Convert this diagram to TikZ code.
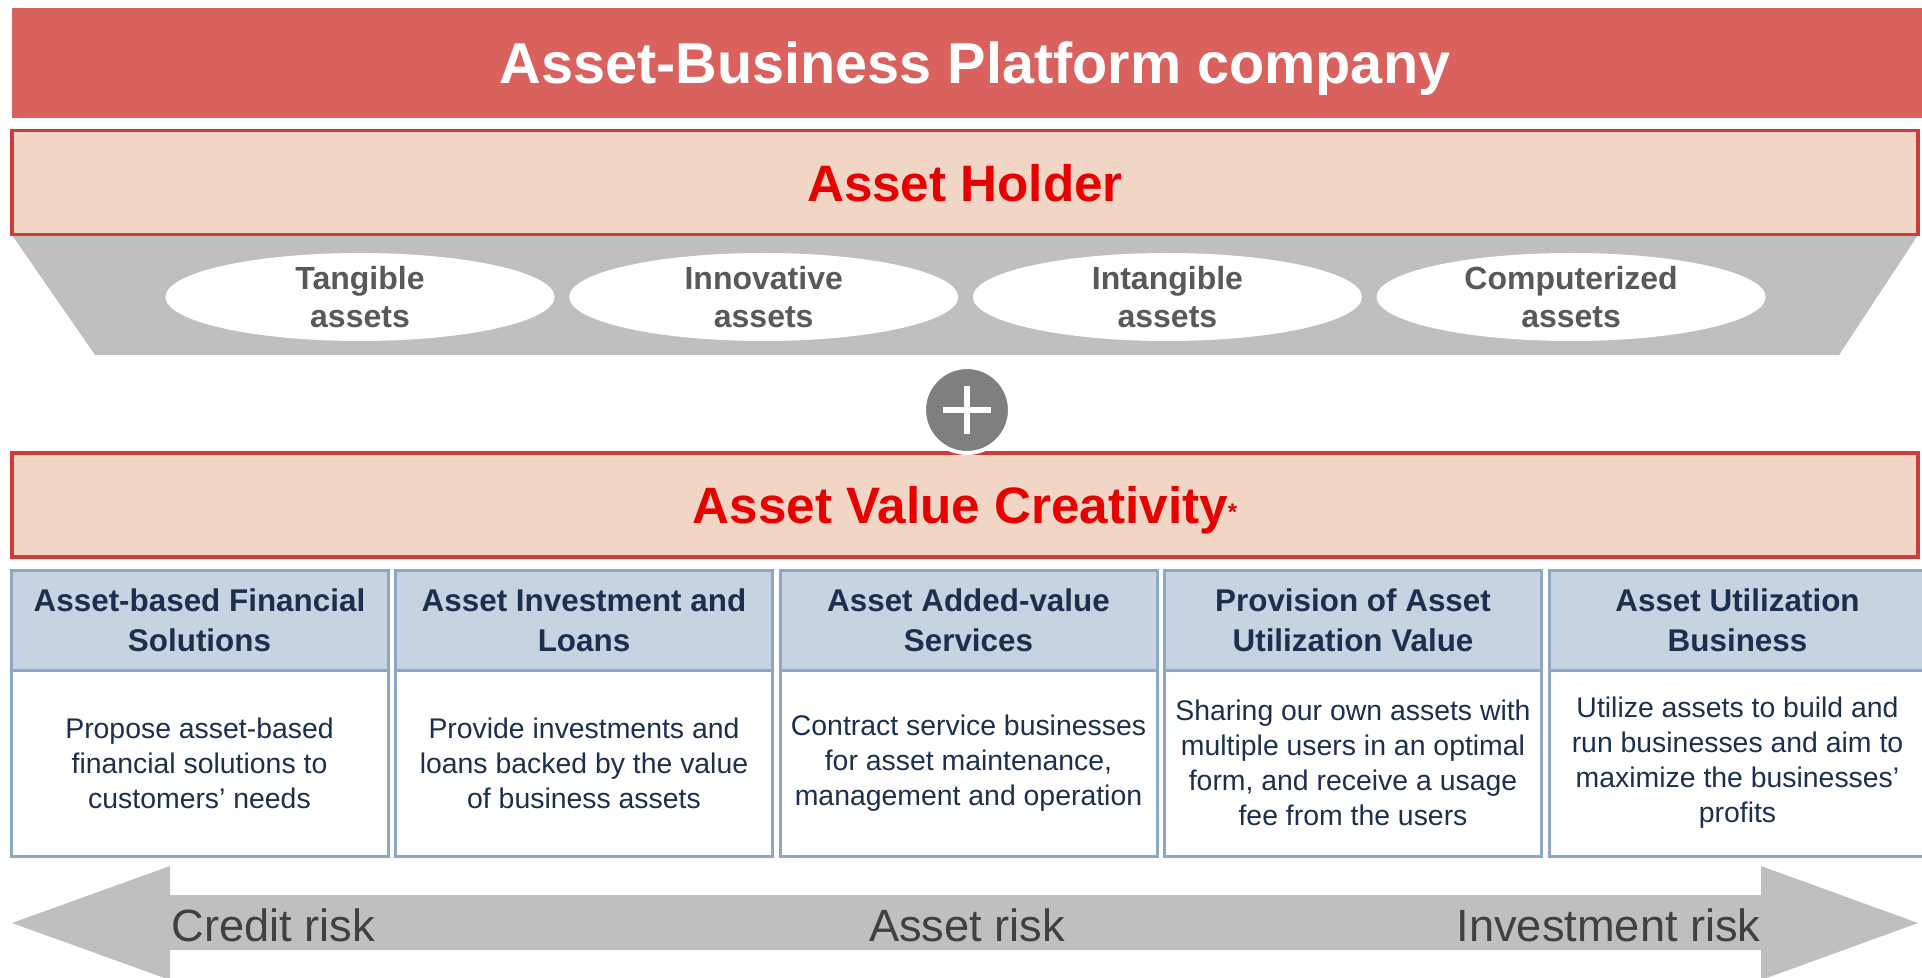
\documentclass[tikz,border=0pt]{standalone}
\usepackage{fontspec}
\setmainfont{Liberation Sans}
\usepackage{xcolor}
\usetikzlibrary{shapes.geometric}
\definecolor{bannerred}{HTML}{D9625F}
\definecolor{holderfill}{HTML}{F1D5C5}
\definecolor{holderline}{HTML}{CD3B3B}
\definecolor{titlered}{HTML}{E60000}
\definecolor{assetgray}{HTML}{BFBFBF}
\definecolor{assettext}{HTML}{595959}
\definecolor{plusgray}{HTML}{7F7F7F}
\definecolor{headfill}{HTML}{C7D3E0}
\definecolor{headline}{HTML}{8DA7C5}
\definecolor{navy}{HTML}{1C2F4E}
\definecolor{risktext}{HTML}{404040}
\begin{document}
\begin{tikzpicture}[x=0.5pt,y=-0.5pt,
  band/.style={line width=1.6pt,draw=holderline,fill=holderfill,minimum width=953pt,minimum height=52pt,inner sep=0pt,text depth=0pt,text=titlered,font=\fontsize{25.6}{25.6}\selectfont\bfseries},
  asset/.style={ellipse,fill=white,minimum width=194.5pt,minimum height=44pt,inner sep=0pt,align=center,text=assettext,font=\fontsize{16}{19}\selectfont\bfseries},
  headbox/.style={line width=1.5pt,draw=headline,fill=headfill,minimum width=188.5pt,minimum height=50pt,inner sep=0pt,align=center,text=navy,font=\fontsize{15.7}{20}\selectfont\bfseries},
  bodybox/.style={line width=1.5pt,draw=headline,fill=white,minimum width=188.5pt,minimum height=93pt,inner sep=0pt,align=center,text=navy,font=\fontsize{14.2}{17.5}\selectfont},
  risk/.style={inner sep=0pt,text=risktext,font=\fontsize{22.6}{22.6}\selectfont}]
\useasboundingbox (0,0) rectangle (1922,978);

\fill[bannerred] (12,8) rectangle (1922,118);
\node[inner sep=0pt,text depth=0pt,text=white,font=\fontsize{28.8}{28.8}\selectfont\bfseries] (platform) at (975,63) {Asset-Business Platform company};

\fill[assetgray] (12,235) -- (1918,235) -- (1839,355) -- (95,355) -- cycle;
\node[band] (holder) at (965,182.5) {Asset Holder};

\foreach \i/\kind in {1/Tangible,2/Innovative,3/Intangible,4/Computerized}
  \node[asset] (asset\i) at ({360+403.7*(\i-1)},297) {\kind\\assets};

\node[band] (creativity) at (965,505) {Asset Value Creativity\raisebox{1.5pt}{\fontsize{12}{12}\selectfont *}};

\node[circle,fill=plusgray,draw=white,line width=2pt,minimum size=43pt,inner sep=0pt] (plus) at (967,410) {};
\draw[white,line width=2.6pt] ([xshift=-12pt]plus.center) -- ([xshift=12pt]plus.center);
\draw[white,line width=2.6pt] ([yshift=-12pt]plus.center) -- ([yshift=12pt]plus.center);

\foreach \i/\head/\body in {
  1/{Asset-based Financial\\Solutions}/{Propose asset-based\\financial solutions to\\customers’ needs},
  2/{Asset Investment and\\Loans}/{Provide investments and\\loans backed by the value\\of business assets},
  3/{Asset Added-value\\Services}/{Contract service businesses\\for asset maintenance,\\management and operation},
  4/{Provision of Asset\\Utilization Value}/{Sharing our own assets with\\multiple users in an optimal\\form, and receive a usage\\fee from the users},
  5/{Asset Utilization\\Business}/{Utilize assets to build and\\run businesses and aim to\\maximize the businesses’\\profits}}{
  \node[headbox] (head\i) at ({199.5+384.5*(\i-1)},620) {\head};
  \node[bodybox] (body\i) at ({199.5+384.5*(\i-1)},763) {\body};
}

\fill[assetgray] (12,923) -- (170,866) -- (170,895) -- (1761,895) -- (1761,866) -- (1918,923)
  -- (1761,980) -- (1761,950) -- (170,950) -- (170,980) -- cycle;
\node[risk,anchor=base west] (credit) at (171,941) {Credit risk};
\node[risk,anchor=base] (assetrisk) at (967,941) {Asset risk};
\node[risk,anchor=base east] (invest) at (1761,941) {Investment risk};
\end{tikzpicture}
\end{document}
